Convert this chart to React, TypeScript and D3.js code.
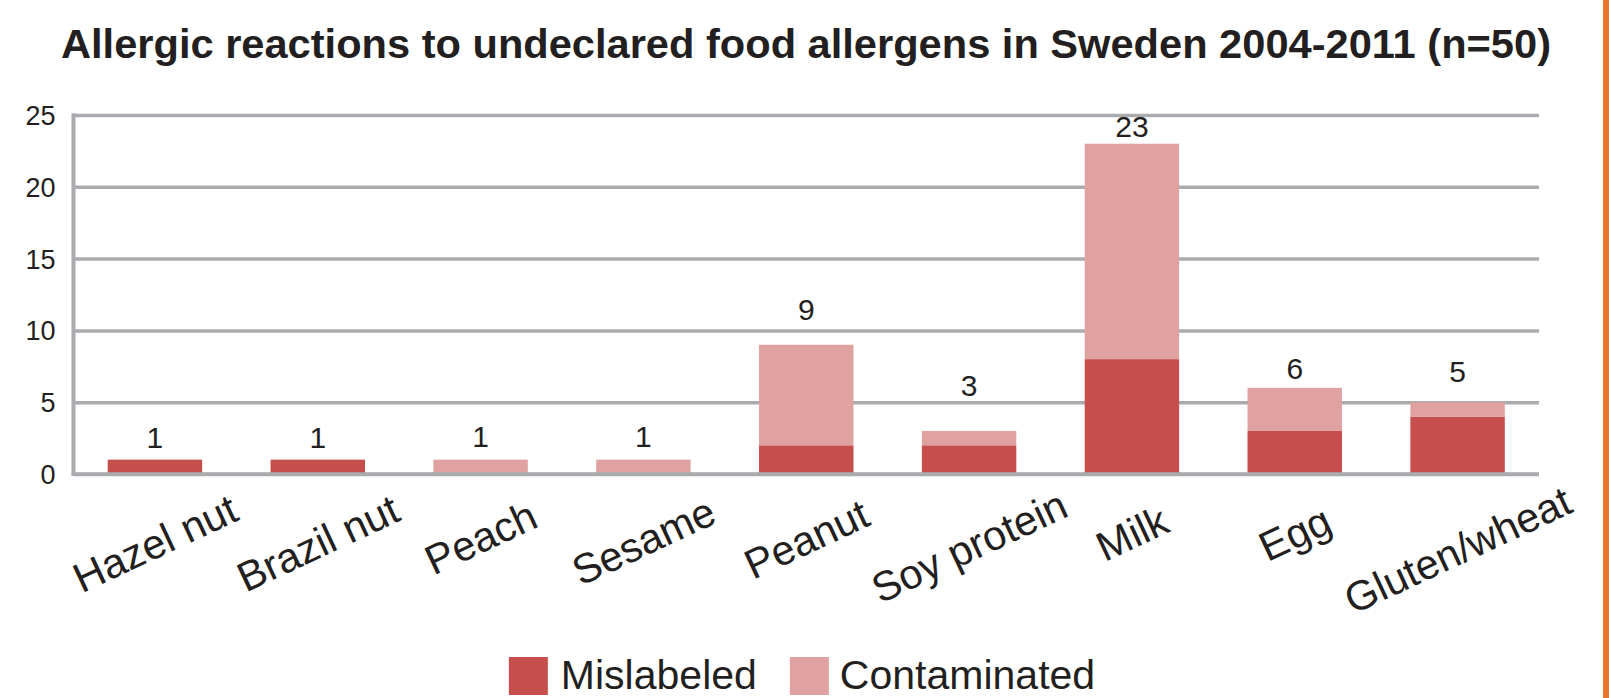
import React, { useEffect, useRef } from 'react';
import * as d3 from 'd3';

// data
const title = 'Allergic reactions to undeclared food allergens in Sweden 2004-2011 (n=50)';
const categories = ['Hazel nut', 'Brazil nut', 'Peach', 'Sesame', 'Peanut', 'Soy protein', 'Milk', 'Egg', 'Gluten/wheat'];
const mislabeled = [1, 1, 0, 0, 2, 2, 8, 3, 4];
const contaminated = [0, 0, 1, 1, 7, 1, 15, 3, 1];
// the total labels are not at a fixed offset above the bars, so their height (in data units) is kept too
const labelAt = [1.8, 1.8, 1.9, 1.9, 10.7, 5.4, 23.5, 6.6, 6.4];
const yTicks = [0, 5, 10, 15, 20, 25];
const seriesNames = ['Mislabeled', 'Contaminated'];
const seriesColors = ['#C64E4C', '#E0A2A1'];

const W = 1609;
const H = 698;
const FONT = '"Liberation Sans", Arial, Helvetica, sans-serif';
const INK = '#231F20';
const GRID = '#A9ABAE';

export default function App() {
  const ref = useRef<SVGSVGElement>(null);

  useEffect(() => {
    const svg = d3.select(ref.current);
    svg.selectAll('*').remove();

    const left = 73.5, right = 1539, top = 115, bottom = 474;

    const x = d3.scaleBand<string>()
      .domain(categories)
      .range([left, right])
      .paddingInner(0.42)
      .paddingOuter(0.21);

    const y = d3.scaleLinear().domain([0, 25]).range([bottom, top]);

    const rows = categories.map((c, i) => ({ category: c, Mislabeled: mislabeled[i], Contaminated: contaminated[i] }));
    const stacked = d3.stack<any>().keys(seriesNames)(rows);
    const totals = categories.map((_, i) => mislabeled[i] + contaminated[i]);

    // title
    svg.append('text')
      .attr('x', 61)
      .attr('y', 58)
      .attr('font-size', 40)
      .attr('font-weight', 'bold')
      .attr('fill', INK)
      .attr('textLength', 1490)
      .attr('lengthAdjust', 'spacingAndGlyphs')
      .text(title);

    // y axis with gridlines
    const yAxis = svg.append('g')
      .attr('transform', `translate(${left},0)`)
      .call(d3.axisLeft(y).tickValues(yTicks).tickSize(-(right - left)).tickPadding(18));
    yAxis.select('.domain').remove();
    yAxis.selectAll('.tick line').attr('stroke', GRID).attr('stroke-width', 3.5);
    yAxis.selectAll('.tick text')
      .attr('fill', INK)
      .attr('font-size', 27)
      .attr('font-family', FONT)
      .attr('dy', '0.35em');

    // left vertical line
    svg.append('line')
      .attr('x1', left).attr('x2', left)
      .attr('y1', y(25) - 1.75).attr('y2', y(0) + 1.75)
      .attr('stroke', GRID)
      .attr('stroke-width', 4);

    // stacked bars
    svg.append('g')
      .selectAll('g')
      .data(stacked)
      .join('g')
      .attr('fill', (_, i) => seriesColors[i])
      .selectAll('rect')
      .data(d => d)
      .join('rect')
      .attr('x', (d: any) => x(d.data.category)!)
      .attr('width', x.bandwidth())
      .attr('y', d => y(d[1]))
      .attr('height', d => y(d[0]) - y(d[1]));

    // baseline on top of bars
    svg.append('line')
      .attr('x1', left - 2).attr('x2', right)
      .attr('y1', y(0)).attr('y2', y(0))
      .attr('stroke', GRID)
      .attr('stroke-width', 3.5);

    // total labels
    svg.append('g')
      .selectAll('text')
      .data(categories)
      .join('text')
      .attr('x', d => x(d)! + x.bandwidth() / 2)
      .attr('y', (_, i) => y(labelAt[i]))
      .attr('text-anchor', 'middle')
      .attr('font-size', 30)
      .attr('font-family', FONT)
      .attr('fill', INK)
      .text((_, i) => totals[i]);

    // rotated category labels
    const xl = svg.append('g')
      .selectAll('text')
      .data(categories)
      .join('text')
      .attr('text-anchor', 'middle')
      .attr('dy', '0.36em')
      .attr('font-size', 41.5)
      .attr('font-family', FONT)
      .attr('fill', INK)
      .text(d => d);
    xl.each(function (d) {
      const len = (this as SVGTextElement).getComputedTextLength();
      const cx = x(d)! + x.bandwidth() / 2;
      const cy = 526 + 0.096 * len;
      d3.select(this).attr('transform', `translate(${cx},${cy}) rotate(-25)`);
    });

    // legend
    const legend = svg.append('g');
    const items = legend.selectAll('g')
      .data(seriesNames)
      .join('g');
    items.append('rect')
      .attr('width', 39)
      .attr('height', 38)
      .attr('y', 657)
      .attr('fill', (_, i) => seriesColors[i]);
    items.append('text')
      .attr('y', 689)
      .attr('font-size', 41)
      .attr('font-family', FONT)
      .attr('fill', INK)
      .text(d => d);
    const widths: number[] = [];
    items.select('text').each(function () {
      widths.push((this as SVGTextElement).getComputedTextLength());
    });
    const total = 39 + 13 + widths[0] + 33 + 39 + 11 + widths[1];
    let pos = 802 - total / 2;
    items.each(function (_, i) {
      const g = d3.select(this);
      g.select('rect').attr('x', pos);
      g.select('text').attr('x', pos + 39 + (i === 0 ? 13 : 11));
      pos += 39 + (i === 0 ? 13 : 11) + widths[i] + 33;
    });

    // orange stripe at the right edge
    svg.append('rect')
      .attr('x', 1603)
      .attr('y', 0)
      .attr('width', 6)
      .attr('height', H)
      .attr('fill', '#E9742B');
  }, []);

  return (
    <svg
      ref={ref}
      width={W}
      height={H}
      style={{ position: 'absolute', left: 0, top: 0, background: '#fff', fontFamily: FONT }}
    />
  );
}
